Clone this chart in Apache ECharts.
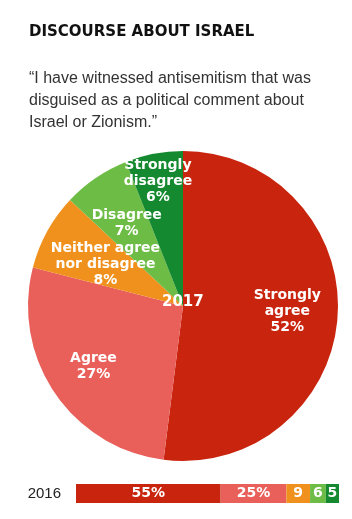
<!DOCTYPE html>
<html>
<head>
<meta charset="utf-8">
<script src="https://cdn.jsdelivr.net/npm/echarts@6/dist/echarts.min.js"></script>
<style>
html,body{margin:0;padding:0;background:#fff;}
#main{width:352px;height:519px;}
</style>
</head>
<body>
<div id="main"></div>
<script>
// 2017 pie
var pieNames = ['Strongly\nagree', 'Agree', 'Neither agree\nnor disagree', 'Disagree', 'Strongly\ndisagree'];
var pieValues = [52, 27, 8, 7, 6];
var colors = ['#c8240e', '#e9605b', '#f0911e', '#6cbc45', '#15892f'];
// 2016 bar
var barYear = ['2016'];
var barValues = [55, 25, 9, 6, 5];

// label nudges so they sit where the original had them
var labelShift = [[24, 0], [-23, 15], [-7, -3], [-11, -16], [-10, -46]];

var chart = echarts.init(document.getElementById('main'));

var pieData = [];
for (var i = 0; i < pieValues.length; i++) {
	pieData.push({name: pieNames[i], value: pieValues[i], itemStyle: {color: colors[i]}});
}

var barSeries = [];
for (var j = 0; j < barValues.length; j++) {
	barSeries.push({
		type: 'bar',
		stack: 'y2016',
		xAxisIndex: 0,
		yAxisIndex: 0,
		barWidth: 19,
		data: [barValues[j]],
		itemStyle: {color: colors[j]},
		label: {
			show: true,
			position: 'inside',
			color: '#fff',
			fontFamily: 'DejaVu Sans',
			fontWeight: 'bold',
			fontSize: 14,
			formatter: j < 2 ? '{c}%' : '{c}'
		}
	});
}

var option = {
	backgroundColor: '#fff',
	animation: false,
	title: [{
		text: 'DISCOURSE ABOUT ISRAEL',
		left: 24,
		top: 20,
		textStyle: {fontFamily: 'DejaVu Sans', fontWeight: 'bold', fontSize: 15, color: '#111'}
	}, {
		text: '\u201cI have witnessed antisemitism that was\ndisguised as a political comment about\nIsrael or Zionism.\u201d',
		left: 24,
		top: 63,
		textStyle: {fontFamily: 'Liberation Sans', fontWeight: 'normal', fontSize: 16, lineHeight: 22, color: '#333'}
	}],
	graphic: [{
		type: 'text',
		left: 162,
		top: 295,
		z: 100,
		style: {text: '2017', fill: '#fff', font: 'bold 15px "DejaVu Sans"'}
	}],
	grid: {left: 76, right: 13, top: 484, height: 19},
	xAxis: {type: 'value', min: 0, max: 100, show: false},
	yAxis: {
		type: 'category',
		data: barYear,
		axisLine: {show: false},
		axisTick: {show: false},
		axisLabel: {margin: 15, fontFamily: 'Liberation Sans', fontSize: 15, color: '#222'}
	},
	series: [{
		type: 'pie',
		center: [183, 306],
		radius: [0, 155],
		startAngle: 90,
		clockwise: true,
		data: pieData,
		itemStyle: {borderWidth: 0},
		emphasis: {disabled: true},
		label: {
			show: true,
			position: 'inside',
			color: '#fff',
			fontFamily: 'DejaVu Sans',
			fontWeight: 'bold',
			fontSize: 14,
			lineHeight: 16,
			formatter: '{b}\n{c}%'
		},
		labelLine: {show: false},
		labelLayout: function (p) {
			var s = labelShift[p.dataIndex];
			return {dx: s[0], dy: s[1]};
		}
	}].concat(barSeries)
};

chart.setOption(option);
</script>
</body>
</html>
